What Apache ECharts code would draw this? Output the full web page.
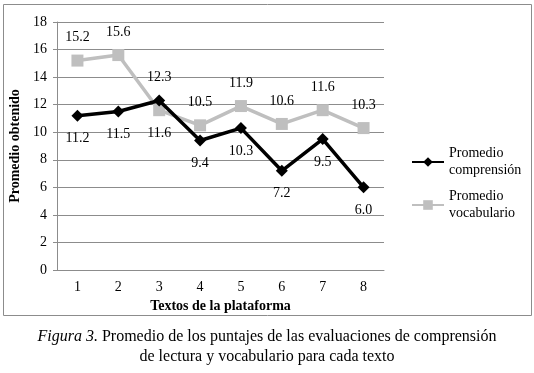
<!DOCTYPE html>
<html>
<head>
<meta charset="utf-8">
<script src="https://cdn.jsdelivr.net/npm/echarts@6/dist/echarts.min.js"></script>
<style>
  html, body { margin: 0; padding: 0; background: #fff; }
  #chart { width: 534px; height: 373px; }
</style>
</head>
<body>
<div id="chart"></div>
<script>
// datos
var textos = ['1', '2', '3', '4', '5', '6', '7', '8'];
var comprension = [11.2, 11.5, 12.3, 9.4, 10.3, 7.2, 9.5, 6.0];
var vocabulario = [15.2, 15.6, 11.6, 10.5, 11.9, 10.6, 11.6, 10.3];
// posicion de las etiquetas por punto
var posComp = ['bottom', 'bottom', 'top', 'bottom', 'bottom', 'bottom', 'bottom', 'bottom'];
var posVoc = ['top', 'top', 'bottom', 'top', 'top', 'top', 'top', 'top'];

var serif = 'Liberation Serif';

function conEtiquetas(valores, pos) {
  return valores.map(function (v, i) {
    return { value: v, label: { position: pos[i] } };
  });
}

var chart = echarts.init(document.getElementById('chart'));

var option = {
  animation: false,
  textStyle: { fontFamily: serif, color: '#000' },
  grid: { left: 57, right: 150, top: 22, bottom: 103 },
  legend: {
    orient: 'vertical',
    left: 406,
    top: 140,
    itemWidth: 32,
    itemHeight: 12,
    itemGap: 9,
    textStyle: { fontFamily: serif, fontSize: 14, color: '#000', lineHeight: 17 },
    data: [
      { name: 'Promedio\ncomprensión' },
      { name: 'Promedio\nvocabulario' }
    ]
  },
  xAxis: {
    type: 'category',
    data: textos,
    name: 'Textos de la plataforma',
    nameLocation: 'middle',
    nameGap: 28,
    nameTextStyle: { fontFamily: serif, fontSize: 14, fontWeight: 'bold', color: '#000' },
    axisLine: { lineStyle: { color: '#8c8c8c' } },
    axisTick: { lineStyle: { color: '#8c8c8c' }, length: 4 },
    axisLabel: { fontFamily: serif, fontSize: 14, color: '#000', margin: 10 }
  },
  yAxis: {
    type: 'value',
    min: 0,
    max: 18,
    interval: 2,
    name: 'Promedio obtenido',
    nameLocation: 'middle',
    nameGap: 31,
    nameTextStyle: { fontFamily: serif, fontSize: 14, fontWeight: 'bold', color: '#000' },
    axisLine: { show: true, lineStyle: { color: '#8c8c8c' } },
    axisTick: { show: true, lineStyle: { color: '#8c8c8c' }, length: 4 },
    axisLabel: { fontFamily: serif, fontSize: 14, color: '#000', margin: 10 },
    splitLine: { lineStyle: { color: '#8c8c8c' } }
  },
  series: [
    {
      name: 'Promedio\ncomprensión',
      type: 'line',
      data: conEtiquetas(comprension, posComp),
      symbol: 'diamond',
      symbolSize: 12,
      z: 3,
      lineStyle: { color: '#000', width: 3.5 },
      itemStyle: { color: '#000' },
      label: {
        show: true,
        distance: 10,
        fontFamily: serif,
        fontSize: 14,
        color: '#000',
        formatter: function (p) { return p.value.toFixed(1); }
      }
    },
    {
      name: 'Promedio\nvocabulario',
      type: 'line',
      data: conEtiquetas(vocabulario, posVoc),
      symbol: 'rect',
      symbolSize: 12,
      z: 2,
      lineStyle: { color: '#bfbfbf', width: 3.5 },
      itemStyle: { color: '#bfbfbf' },
      label: {
        show: true,
        distance: 10,
        fontFamily: serif,
        fontSize: 14,
        color: '#000',
        formatter: function (p) { return p.value.toFixed(1); }
      }
    }
  ],
  graphic: [
    {
      type: 'rect',
      shape: { x: 3.5, y: 4.5, width: 528, height: 311 },
      style: { fill: 'none', stroke: '#8c8c8c', lineWidth: 1 },
      silent: true
    },
    {
      type: 'text',
      x: 267,
      y: 327,
      style: {
        text: '{i|Figura 3.} Promedio de los puntajes de las evaluaciones de comprensión\nde lectura y vocabulario para cada texto',
        fontFamily: serif,
        fontSize: 16,
        lineHeight: 20,
        fill: '#000',
        align: 'center',
        verticalAlign: 'top',
        rich: {
          i: { fontStyle: 'italic', fontFamily: serif, fontSize: 16 }
        }
      }
    }
  ]
};

chart.setOption(option);
</script>
</body>
</html>
